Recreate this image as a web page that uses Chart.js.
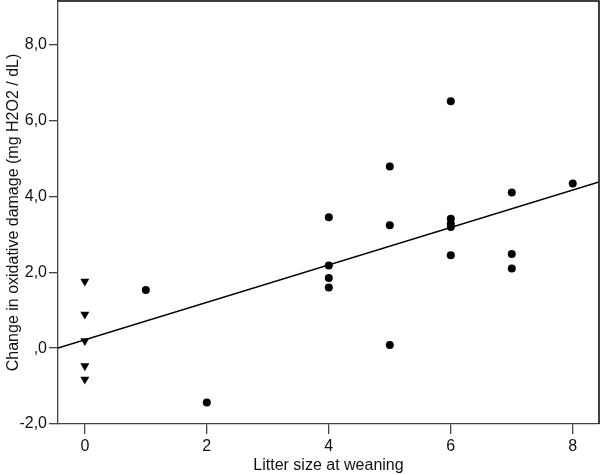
<!DOCTYPE html>
<html>
<head>
<meta charset="utf-8">
<script src="https://cdn.jsdelivr.net/npm/chart.js@4.4.1/dist/chart.umd.min.js"></script>
<style>
  html, body { margin: 0; padding: 0; background: #fff; overflow: hidden; }
</style>
</head>
<body>
<canvas id="grafico" width="600" height="475"></canvas>
<script>
// litter size 0 (triangles)
const zeroX = [0, 0, 0, 0, 0];
const zeroY = [1.76, 0.89, 0.19, -0.47, -0.82];

// litter size >= 1 (circles)
const litterX = [1, 2, 4, 4, 4, 4, 5, 5, 5, 6, 6, 6, 6, 6, 7, 7, 7, 8];
const litterY = [1.53, -1.43, 3.45, 2.18, 1.85, 1.60, 4.79, 3.24, 0.08, 6.51, 3.41, 3.28, 3.19, 2.45, 4.10, 2.48, 2.10, 4.34];

// fitted line, read at the plot edges
const fitX = [-0.44, 8.43];
const fitY = [0.0, 4.38];

const xTicks = [0, 2, 4, 6, 8];
const yTicks = [-2, 0, 2, 4, 6, 8];

const pts = (xs, ys) => xs.map((x, i) => ({ x: x, y: ys[i] }));

const fmtComma = v => {
    if (v === 0) return ',0';
    return v.toFixed(1).replace('.', ',');
};

// top and right edges of the frame, drawn in black
const framePlugin = {
    id: 'frame',
    afterDatasetsDraw(chart) {
        const { ctx, chartArea: a } = chart;
        ctx.save();
        ctx.strokeStyle = '#000';
        ctx.lineWidth = 1.5;
        ctx.beginPath();
        ctx.moveTo(a.left, a.top);
        ctx.lineTo(a.right, a.top);
        ctx.lineTo(a.right, a.bottom);
        ctx.stroke();
        ctx.restore();
    }
};

const fuente = { family: '"Liberation Sans", Arial, sans-serif', size: 16 };

new Chart(document.getElementById('grafico'), {
    type: 'scatter',
    data: {
        datasets: [
            {
                label: 'Fit',
                type: 'line',
                data: pts(fitX, fitY),
                borderColor: '#000',
                borderWidth: 1.5,
                pointRadius: 0,
                fill: false
            },
            {
                label: 'Litter 0',
                data: pts(zeroX, zeroY),
                pointStyle: 'triangle',
                rotation: 180,
                pointRadius: 5.2,
                backgroundColor: '#000',
                borderColor: '#000',
                borderWidth: 0
            },
            {
                label: 'Litter',
                data: pts(litterX, litterY),
                pointStyle: 'circle',
                pointRadius: 4,
                backgroundColor: '#000',
                borderColor: '#000',
                borderWidth: 0
            }
        ]
    },
    options: {
        responsive: false,
        animation: false,
        layout: { autoPadding: false, padding: { top: 1, right: 1, left: 0, bottom: 0 } },
        plugins: {
            legend: { display: false },
            tooltip: { enabled: false }
        },
        scales: {
            x: {
                type: 'linear',
                min: -0.44,
                max: 8.43,
                afterFit: s => { s.height = 51; s.paddingLeft = 0; s.paddingRight = 0; },
                afterBuildTicks: s => { s.ticks = xTicks.map(v => ({ value: v })); },
                grid: { drawOnChartArea: false, drawTicks: true, tickLength: 10, color: '#444', lineWidth: 1.3 },
                border: { display: true, color: '#444', width: 1.3 },
                ticks: { color: '#111', font: fuente, padding: 3, maxRotation: 0, callback: v => String(v) },
                title: { display: true, text: 'Litter size at weaning', color: '#111', font: fuente, padding: { top: 0, bottom: 0 } }
            },
            y: {
                type: 'linear',
                min: -2,
                max: 9.15,
                afterFit: s => { s.width = 58; s.paddingTop = 0; s.paddingBottom = 0; },
                afterBuildTicks: s => { s.ticks = yTicks.map(v => ({ value: v })); },
                grid: { drawOnChartArea: false, drawTicks: true, tickLength: 9, color: '#444', lineWidth: 1.3 },
                border: { display: true, color: '#444', width: 1.3 },
                ticks: { color: '#111', font: fuente, padding: 2, callback: v => fmtComma(v) },
                title: { display: true, text: 'Change in oxidative damage (mg H2O2 / dL)', color: '#111', font: fuente, padding: { top: 4, bottom: 0 } }
            }
        }
    },
    plugins: [framePlugin]
});
</script>
</body>
</html>
